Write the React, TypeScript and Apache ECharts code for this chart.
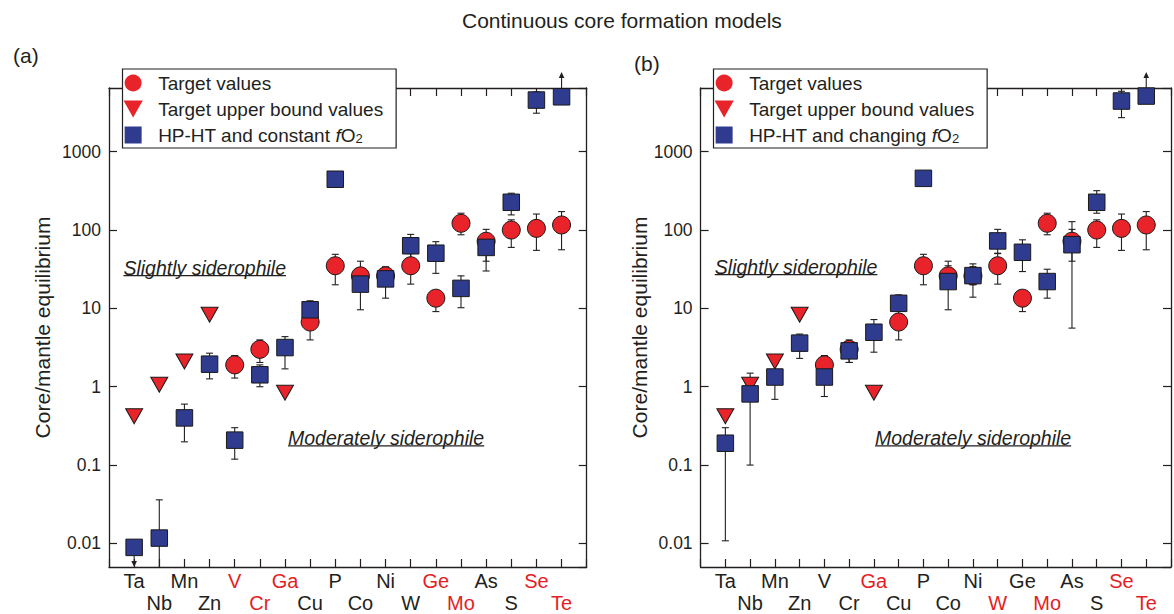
import React, { useEffect, useRef } from 'react';
import * as echarts from 'echarts';

const FONT = '"Liberation Sans", Arial, Helvetica, sans-serif';
const INK = '#231f20';
const RED = '#e8232a';
const BLUE = '#2e3b8f';
const LABEL_RED = '#e31e24';

// ---- data ----
const categories = ['Ta', 'Nb', 'Mn', 'Zn', 'V', 'Cr', 'Ga', 'Cu', 'P', 'Co', 'Ni', 'W', 'Ge', 'Mo', 'As', 'S', 'Se', 'Te'];
const redLabelsA = ['V', 'Cr', 'Ga', 'Ge', 'Mo', 'Se', 'Te'];
const redLabelsB = ['Ga', 'W', 'Mo', 'Se', 'Te'];
const yTickValues = [0.01, 0.1, 1, 10, 100, 1000];

const targetValues = [null, null, null, null, 1.9, 3.0, null, 6.7, 35, 26, 26, 35, 13.5, 122, 72, 100, 105, 116];
const targetLow = [null, null, null, null, 1.29, 2.04, null, 3.96, 20, 18, 20, 20.4, 9.1, 87, 40, 60, 55, 56];
const targetHigh = [null, null, null, null, 2.5, 3.96, null, 8.5, 49, 40, 34, 50, 16.4, 164, 102, 135, 160, 172];
const upperBounds = [0.42, 1.06, 2.1, 8.3, null, null, 0.84, null, null, null, null, null, null, null, null, null, null, null];

const constantFO2 = [0.0089, 0.0117, 0.40, 1.94, 0.208, 1.42, 3.16, 9.6, 445, 20.4, 23.8, 63, 50.6, 18, 60, 226, 4560, 5020];
const constantLow = [null, 0.004, 0.198, 1.26, 0.119, 1.0, 1.69, 6.0, null, 9.6, 13.5, 40, 28, 10.2, 30, 156, 3100, null];
const constantHigh = [null, 0.036, 0.60, 2.68, 0.30, 1.9, 4.36, 12.5, null, 30, 32, 88, 71, 26, 85, 295, 5800, null];
const constantArrows = ['down', null, null, null, null, null, null, null, null, null, null, null, null, null, null, null, null, 'up'];

const changingFO2 = [0.19, 0.81, 1.33, 3.6, 1.33, 2.87, 4.96, 11.6, 457, 22, 26.2, 72.6, 52, 22, 65, 226, 4430, 5130];
const changingLow = [0.0108, 0.1, 0.69, 2.3, 0.75, 2.04, 2.76, 7.0, null, 9.6, 13.9, 50.6, 29.5, 13.5, 5.6, 164, 2720, null];
const changingHigh = [0.3, 1.49, 2.0, 4.7, 1.9, 3.6, 7.2, 14.9, null, 35, 37, 102, 75, 31.6, 128, 318, 5900, null];
const changingArrows = [null, null, null, null, null, null, null, null, null, null, null, null, null, null, null, null, null, 'up'];

const NAME_TARGET = 'Target values';
const NAME_UPPER = 'Target upper bound values';
const NAME_CONST = 'HP-HT and constant fO2';
const NAME_CHANGE = 'HP-HT and changing fO2';

const SYM_TRIANGLE = 'path://M0,0 L17,0 L8.5,15 Z';
const SYM_SQUARE = 'path://M0,0 L10,0 L10,10 L0,10 Z';

// ---- helpers ----
const points = (vals: (number | null)[]) =>
  vals.map((v, i) => (v == null ? null : [i + 1, v])).filter((d) => d !== null);

const bars = (lo: (number | null)[], hi: (number | null)[]) =>
  lo.map((l, i) => (l == null || hi[i] == null ? null : [i + 1, l, hi[i]])).filter((d) => d !== null);

const arrows = (vals: number[], dirs: (string | null)[]) =>
  dirs.map((d, i) => (d == null ? null : [i + 1, vals[i], d === 'up' ? 1 : -1])).filter((d) => d !== null);

const errorBarItem = (params: any, api: any) => {
  const x = api.value(0);
  const pLo = api.coord([x, api.value(1)]);
  const pHi = api.coord([x, api.value(2)]);
  const cs = params.coordSys;
  const top = cs.y;
  const bottom = cs.y + cs.height;
  const y1 = Math.max(pHi[1], top);
  const y2 = Math.min(pLo[1], bottom);
  const cap = 3.5;
  const style = { stroke: INK, lineWidth: 1.1 };
  const children: any[] = [{ type: 'line', shape: { x1: pLo[0], y1, x2: pLo[0], y2 }, style }];
  if (pHi[1] >= top) children.push({ type: 'line', shape: { x1: pHi[0] - cap, y1: pHi[1], x2: pHi[0] + cap, y2: pHi[1] }, style });
  if (pLo[1] <= bottom) children.push({ type: 'line', shape: { x1: pLo[0] - cap, y1: pLo[1], x2: pLo[0] + cap, y2: pLo[1] }, style });
  return { type: 'group', children };
};

const arrowItem = (params: any, api: any) => {
  const x = api.value(0);
  const dir = api.value(2);
  const p = api.coord([x, api.value(1)]);
  const cs = params.coordSys;
  const tip = dir > 0 ? cs.y - 16 : cs.y + cs.height;
  const base = dir > 0 ? tip + 6 : tip - 6;
  const style = { stroke: INK, lineWidth: 1.1 };
  return {
    type: 'group',
    children: [
      { type: 'line', shape: { x1: p[0], y1: p[1], x2: p[0], y2: base }, style },
      { type: 'polygon', shape: { points: [[p[0] - 2.8, base], [p[0] + 2.8, base], [p[0], tip]] }, style: { fill: INK } },
    ],
  };
};

const GRID_TOP = 88;
const GRID_H = 480;
const GRID_W = 477.7;
const GRIDS = [109, 700.6];

function xAxes(g: number, reds: string[]) {
  const line = { show: true, onZero: false, lineStyle: { color: INK, width: 1.3 } };
  const tick = { show: true, inside: true, length: 8, lineStyle: { color: INK, width: 1.2 } };
  const base = { type: 'value', gridIndex: g, min: 0, max: 19, interval: 1, splitLine: { show: false }, axisLine: line, axisTick: tick };
  return [
    {
      ...base,
      position: 'bottom',
      axisLabel: {
        margin: 3,
        lineHeight: 22,
        fontSize: 20,
        fontFamily: FONT,
        color: INK,
        formatter: (v: number) => {
          const i = Math.round(v) - 1;
          if (i < 0 || i >= categories.length) return '';
          const key = reds.includes(categories[i]) ? 'r' : 'k';
          return (i % 2 === 0 ? '' : '\n') + `{${key}|${categories[i]}}`;
        },
        rich: {
          k: { color: INK, fontSize: 20, fontFamily: FONT, lineHeight: 22 },
          r: { color: LABEL_RED, fontSize: 20, fontFamily: FONT, lineHeight: 22 },
        },
      },
    },
    { ...base, position: 'top', axisLabel: { show: false } },
  ];
}

function yAxes(g: number, nameGap: number) {
  const line = { show: true, onZero: false, lineStyle: { color: INK, width: 1.3 } };
  const tick = { show: true, inside: true, length: 8, lineStyle: { color: INK, width: 1.2 } };
  const base = { type: 'log', logBase: 10, gridIndex: g, min: 0.005, max: 6500, splitLine: { show: false }, minorTick: { show: false }, axisLine: line, axisTick: tick };
  return [
    {
      ...base,
      position: 'left',
      name: 'Core/mantle equilibrium',
      nameLocation: 'middle',
      nameRotate: 90,
      nameGap,
      nameTextStyle: { fontSize: 21, fontFamily: FONT, color: INK },
      axisLabel: {
        margin: 8,
        fontSize: 17.5,
        fontFamily: FONT,
        color: INK,
        showMinLabel: false,
        showMaxLabel: false,
        formatter: (v: number) => {
          const t = yTickValues.find((tv) => Math.abs(Math.log10(tv) - Math.log10(v)) < 1e-6);
          return t == null ? '' : String(t);
        },
      },
    },
    { ...base, position: 'right', axisLabel: { show: false } },
  ];
}

function panelSeries(g: number, sqName: string, sqVals: number[], sqLo: any[], sqHi: any[], sqArrows: any[]) {
  const xi = g * 2;
  const yi = g * 2;
  const border = { borderColor: '#1a1a1a', borderWidth: 1, opacity: 1 };
  return [
    { type: 'custom', name: 'arrows', xAxisIndex: xi, yAxisIndex: yi, clip: false, z: 1, renderItem: arrowItem, data: arrows(sqVals, sqArrows), encode: { x: 0, y: 1 }, silent: true },
    { type: 'custom', name: 'target error', xAxisIndex: xi, yAxisIndex: yi, z: 2, renderItem: errorBarItem, data: bars(targetLow, targetHigh), encode: { x: 0, y: [1, 2] }, silent: true },
    { type: 'custom', name: 'model error', xAxisIndex: xi, yAxisIndex: yi, z: 2, renderItem: errorBarItem, data: bars(sqLo, sqHi), encode: { x: 0, y: [1, 2] }, silent: true },
    { type: 'scatter', name: NAME_TARGET, xAxisIndex: xi, yAxisIndex: yi, z: 3, symbol: 'circle', symbolSize: 18, itemStyle: { color: RED, ...border }, data: points(targetValues) },
    { type: 'scatter', name: NAME_UPPER, xAxisIndex: xi, yAxisIndex: yi, z: 4, symbol: SYM_TRIANGLE, symbolSize: [17, 15], itemStyle: { color: RED, ...border }, data: points(upperBounds) },
    { type: 'scatter', name: sqName, xAxisIndex: xi, yAxisIndex: yi, z: 5, symbol: SYM_SQUARE, symbolSize: 16.5, itemStyle: { color: BLUE, ...border }, data: points(sqVals) },
  ];
}

function legend(left: number, names: string[]) {
  return {
    left,
    top: 69,
    orient: 'vertical',
    selectedMode: false,
    data: names,
    backgroundColor: '#fff',
    borderColor: INK,
    borderWidth: 1.2,
    borderRadius: 0,
    padding: [4, 13, 3, 1],
    itemWidth: 40,
    itemHeight: 17,
    itemGap: 6,
    symbolKeepAspect: true,
    itemStyle: { borderWidth: 0 },
    formatter: (name: string) => name.replace('fO2', '{i|f}O{s|2}'),
    textStyle: {
      fontSize: 19,
      fontFamily: FONT,
      color: INK,
      lineHeight: 20,
      rich: {
        i: { fontStyle: 'italic', fontSize: 19, fontFamily: FONT, color: INK, lineHeight: 20 },
        s: { fontSize: 13, fontFamily: FONT, color: INK, lineHeight: 8, verticalAlign: 'bottom' },
      },
    },
  };
}

function measure(text: string, font: string) {
  const c = document.createElement('canvas').getContext('2d');
  if (!c) return 0;
  c.font = font;
  return c.measureText(text).width;
}

function annotation(text: string, x: number, y: number) {
  const size = 19.5;
  const w = measure(text, `italic ${size}px "Liberation Sans"`);
  return [
    { type: 'text', x, y, style: { text, fontSize: size, fontStyle: 'italic', fontFamily: FONT, fill: INK, align: 'left', verticalAlign: 'middle' } },
    { type: 'line', shape: { x1: x, y1: y + 7.6, x2: x + w, y2: y + 7.6 }, style: { stroke: INK, lineWidth: 1.1 } },
  ];
}

export default function App() {
  const ref = useRef<HTMLDivElement>(null);
  useEffect(() => {
    if (!ref.current) return;
    const chart = echarts.init(ref.current, undefined, { renderer: 'svg' });
    chart.setOption({
      animation: false,
      backgroundColor: '#fff',
      title: {
        text: 'Continuous core formation models',
        left: 462,
        top: 9.5,
        padding: 0,
        textStyle: { fontSize: 21, fontWeight: 'normal', fontFamily: FONT, color: INK },
      },
      grid: GRIDS.map((l) => ({ left: l, top: GRID_TOP, width: GRID_W, height: GRID_H, containLabel: false })),
      xAxis: [...xAxes(0, redLabelsA), ...xAxes(1, redLabelsB)],
      yAxis: [...yAxes(0, 56), ...yAxes(1, 51)],
      legend: [
        legend(122.5, [NAME_TARGET, NAME_UPPER, NAME_CONST]),
        legend(713.5, [NAME_TARGET, NAME_UPPER, NAME_CHANGE]),
      ],
      graphic: [
        { type: 'text', x: 13, y: 55.5, style: { text: '(a)', fontSize: 21, fontFamily: FONT, fill: INK, verticalAlign: 'middle' } },
        { type: 'text', x: 634, y: 63.3, style: { text: '(b)', fontSize: 21, fontFamily: FONT, fill: INK, verticalAlign: 'middle' } },
        ...annotation('Slightly siderophile', 123.4, 268),
        ...annotation('Moderately siderophile', 288, 438.3),
        ...annotation('Slightly siderophile', 714.8, 267),
        ...annotation('Moderately siderophile', 875, 438.3),
      ],
      series: [
        ...panelSeries(0, NAME_CONST, constantFO2, constantLow, constantHigh, constantArrows),
        ...panelSeries(1, NAME_CHANGE, changingFO2, changingLow, changingHigh, changingArrows),
      ],
    });
    return () => chart.dispose();
  }, []);
  return <div ref={ref} style={{ position: 'fixed', left: 0, top: 0, width: 1174, height: 614 }} />;
}
